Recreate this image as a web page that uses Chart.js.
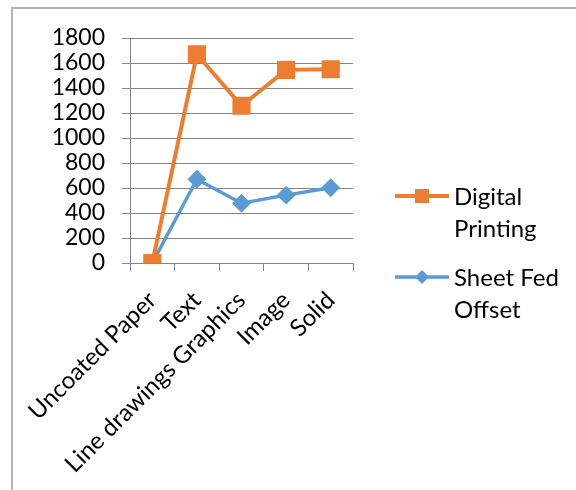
<!DOCTYPE html>
<html>
<head>
<meta charset="utf-8">
<script src="https://cdn.jsdelivr.net/npm/chart.js@4"></script>
<style>
  html, body { margin: 0; padding: 0; background: #fff; }
  #wrap { position: relative; width: 576px; height: 490px; overflow: hidden; }
  #frame { position: absolute; left: 11px; top: 7px; width: 600px; height: 520px;
           border-left: 2px solid #b4b4b4; border-top: 2px solid #b4b4b4; }
  #grafico { position: absolute; left: 0; top: 0; }
</style>
</head>
<body>
<div id="wrap">
  <div id="frame"></div>
  <canvas id="grafico" width="576" height="490"></canvas>
</div>
<script>
var categorias = ["Uncoated Paper", "Text", "Line drawings Graphics", "Image", "Solid"];
var digitalPrinting = [0, 1670, 1258, 1545, 1550];
var sheetFedOffset = [0, 670, 478, 543, 602];
var yTicks = [0, 200, 400, 600, 800, 1000, 1200, 1400, 1600, 1800];

var fonte = "Lato, 'Open Sans', sans-serif";

// legenda desenhada a mao para poder quebrar o texto em duas linhas
var legendaLateral = {
  id: "legendaLateral",
  afterDraw: function (chart) {
    var ctx = chart.ctx;
    var posY = [196, 277];
    ctx.save();
    ctx.font = "24px " + fonte;
    ctx.textBaseline = "alphabetic";
    chart.data.datasets.forEach(function (ds, i) {
      var y = posY[i];
      ctx.strokeStyle = ds.borderColor;
      ctx.lineWidth = ds.borderWidth;
      ctx.beginPath();
      ctx.moveTo(395, y);
      ctx.lineTo(449, y);
      ctx.stroke();
      ctx.fillStyle = ds.backgroundColor;
      ctx.beginPath();
      if (ds.pointStyle === "rect") {
        ctx.rect(415, y - 7, 14, 14);
      } else {
        ctx.moveTo(422, y - 7);
        ctx.lineTo(429, y);
        ctx.lineTo(422, y + 7);
        ctx.lineTo(415, y);
        ctx.closePath();
      }
      ctx.fill();
      // quebra de linha simples
      var palavras = ds.label.split(" ");
      var linhas = [];
      var atual = "";
      palavras.forEach(function (p) {
        var teste = atual ? atual + " " + p : p;
        if (atual && ctx.measureText(teste).width > 115) {
          linhas.push(atual);
          atual = p;
        } else {
          atual = teste;
        }
      });
      linhas.push(atual);
      ctx.fillStyle = "#000";
      linhas.forEach(function (l, k) {
        ctx.fillText(l, 454, y + 9 + k * 32);
      });
    });
    ctx.restore();
  }
};

new Chart(document.getElementById("grafico").getContext("2d"), {
  type: "line",
  data: {
    labels: categorias,
    datasets: [
      {
        label: "Digital Printing",
        data: digitalPrinting,
        borderColor: "#ED7D31",
        backgroundColor: "#ED7D31",
        borderWidth: 4,
        pointStyle: "rect",
        pointRadius: 10,
        pointHoverRadius: 10,
        tension: 0
      },
      {
        label: "Sheet Fed Offset",
        data: sheetFedOffset,
        borderColor: "#5B9BD5",
        backgroundColor: "#5B9BD5",
        borderWidth: 3.5,
        pointStyle: "rectRot",
        pointRadius: 7,
        pointHoverRadius: 7,
        tension: 0
      }
    ]
  },
  options: {
    responsive: false,
    animation: false,
    events: [],
    layout: { padding: { left: 0, right: 223, top: 38, bottom: 0 } },
    plugins: {
      legend: { display: false },
      tooltip: { enabled: false }
    },
    scales: {
      x: {
        offset: true,
        grid: {
          offset: true,
          drawOnChartArea: false,
          drawTicks: true,
          tickLength: 8,
          color: "#868686",
          lineWidth: 1
        },
        border: { display: true, color: "#868686", width: 1 },
        ticks: {
          autoSkip: false,
          minRotation: 45,
          maxRotation: 45,
          padding: 15,
          color: "#000",
          font: { family: fonte, size: 24 }
        },
        afterFit: function (scale) { scale.height = 227; }
      },
      y: {
        min: 0,
        max: 1800,
        afterBuildTicks: function (scale) {
          scale.ticks = yTicks.map(function (v) { return { value: v }; });
        },
        grid: {
          color: "#868686",
          lineWidth: 1,
          drawTicks: true,
          tickLength: 8
        },
        border: { display: true, color: "#868686", width: 1 },
        ticks: {
          autoSkip: false,
          padding: 17,
          color: "#000",
          font: { family: fonte, size: 23 },
          callback: function (v) { return String(v); }
        },
        afterFit: function (scale) { scale.width = 130; }
      }
    }
  },
  plugins: [legendaLateral]
});
</script>
</body>
</html>
